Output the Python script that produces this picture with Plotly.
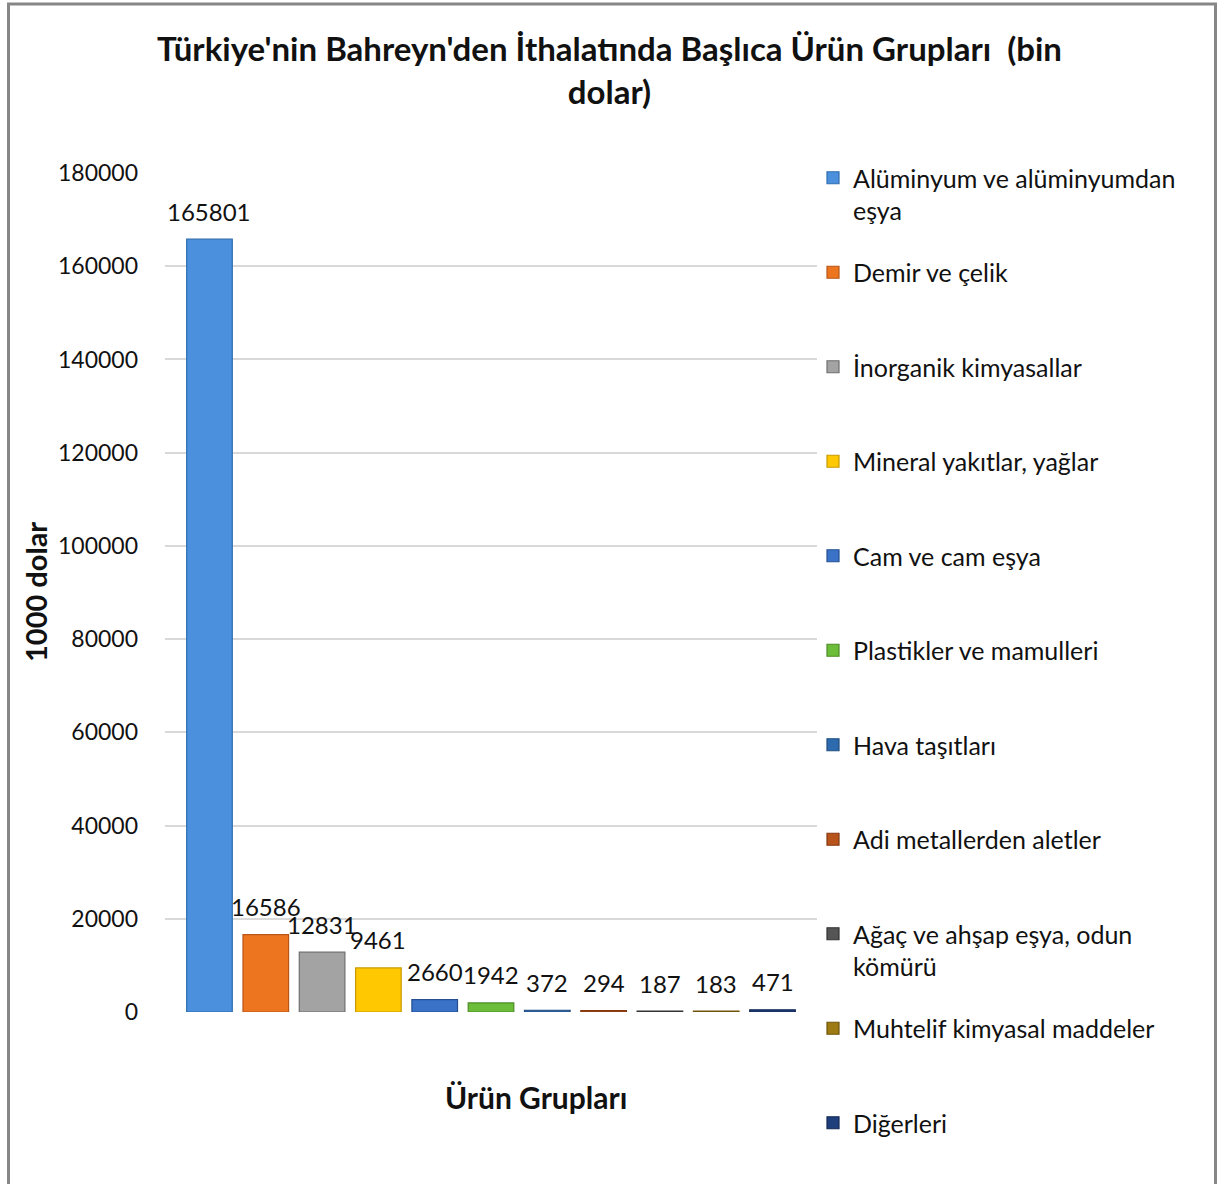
import plotly.graph_objects as go

# ---- data ----
categories = [
    "Alüminyum ve alüminyumdan<br>eşya",
    "Demir ve çelik",
    "İnorganik kimyasallar",
    "Mineral yakıtlar, yağlar",
    "Cam ve cam eşya",
    "Plastikler ve mamulleri",
    "Hava taşıtları",
    "Adi metallerden aletler",
    "Ağaç ve ahşap eşya, odun<br>kömürü",
    "Muhtelif kimyasal maddeler",
    "Diğerleri",
]
values = [165801, 16586, 12831, 9461, 2660, 1942, 372, 294, 187, 183, 471]
colors = ["#4A90DC", "#EE7520", "#A3A3A3", "#FFC800", "#3A72C8", "#6CBE3A",
          "#2E6BAE", "#B8531C", "#555555", "#9E7A12", "#1F3F7C"]
line_colors = ["#2F6DAF", "#B8561A", "#6E6E6E", "#C79A00", "#254F92", "#4C8C25",
               "#1F4C7E", "#853810", "#333333", "#6E540A", "#132852"]
y_ticks = [0, 20000, 40000, 60000, 80000, 100000, 120000, 140000, 160000, 180000]

title_text = "Türkiye'nin Bahreyn'den İthalatında Başlıca Ürün Grupları  (bin<br>dolar)"
y_title = "1000 dolar"
x_title = "Ürün Grupları"

FONT = "Lato"
W, H = 1219, 1184
PL, PR, PT, PB = 165, 817, 173, 1012   # plot area in px
PW, PH = PR - PL, PB - PT

def px_x(p):
    return (p - PL) / PW

def px_y(p):
    return (PB - p) / PH

fig = go.Figure()
for i, (cat, v) in enumerate(zip(categories, values)):
    label = cat if "<br>" in cat else cat + "<br>\u00a0"
    fig.add_trace(go.Bar(
        x=[i], y=[v], width=0.81, name=label,
        legendgroup=f"g{i}",
        marker=dict(color=colors[i], line=dict(color=line_colors[i], width=1.2)),
        hoverinfo="y",
    ))
    fig.add_annotation(x=i, y=v, text=str(v), showarrow=False, yshift=28,
                       yanchor="middle", xanchor="center",
                       font=dict(family=FONT, size=24, color="#111111"))

# axis titles as annotations
fig.add_annotation(text=f"<b>{x_title}</b>", xref="paper", yref="paper",
                   x=px_x(536), y=px_y(1097), showarrow=False,
                   xanchor="center", yanchor="middle",
                   font=dict(family=FONT, size=30, color="#111111"))
fig.add_annotation(text=f"<b>{y_title}</b>", xref="paper", yref="paper",
                   x=px_x(35), y=px_y(592), showarrow=False, textangle=-90,
                   xanchor="center", yanchor="middle",
                   font=dict(family=FONT, size=29, color="#111111"))

# outer border
fig.add_shape(type="rect", xref="paper", yref="paper",
              x0=px_x(8.5), x1=px_x(1215.5),
              y0=px_y(1230), y1=px_y(4),
              line=dict(color="#878787", width=3), layer="below")

fig.update_layout(
    width=W, height=H,
    margin=dict(l=PL, r=W - PR, t=PT, b=H - PB, autoexpand=False),
    paper_bgcolor="white", plot_bgcolor="white",
    barmode="overlay",
    title=dict(text=f"<b>{title_text}</b>", x=0.5, xref="container", xanchor="center",
               y=1 - 61 / H, yref="container", yanchor="middle",
               font=dict(family=FONT, size=33, color="#111111")),
    font=dict(family=FONT, size=24, color="#111111"),
    showlegend=True,
    legend=dict(x=px_x(813), xanchor="left", y=px_y(155), yanchor="top",
                valign="top", tracegroupgap=26.5, itemwidth=30, maxheight=1100,
                font=dict(family=FONT, size=25, color="#111111"),
                bgcolor="rgba(0,0,0,0)"),
    xaxis=dict(range=[-0.79, 10.79], showticklabels=False, showgrid=False,
               zeroline=False, showline=False, ticks=""),
    yaxis=dict(range=[0, 180000], tickvals=y_ticks, tickformat="d", showgrid=True,
               gridcolor="#D9D9D9", gridwidth=1.5, zeroline=False,
               showline=False, ticks="", ticklabelstandoff=26,
               tickfont=dict(family=FONT, size=23, color="#111111")),
)

fig.write_html("out.html", config={"displayModeBar": False},
               post_script="document.body.style.margin='0';")
